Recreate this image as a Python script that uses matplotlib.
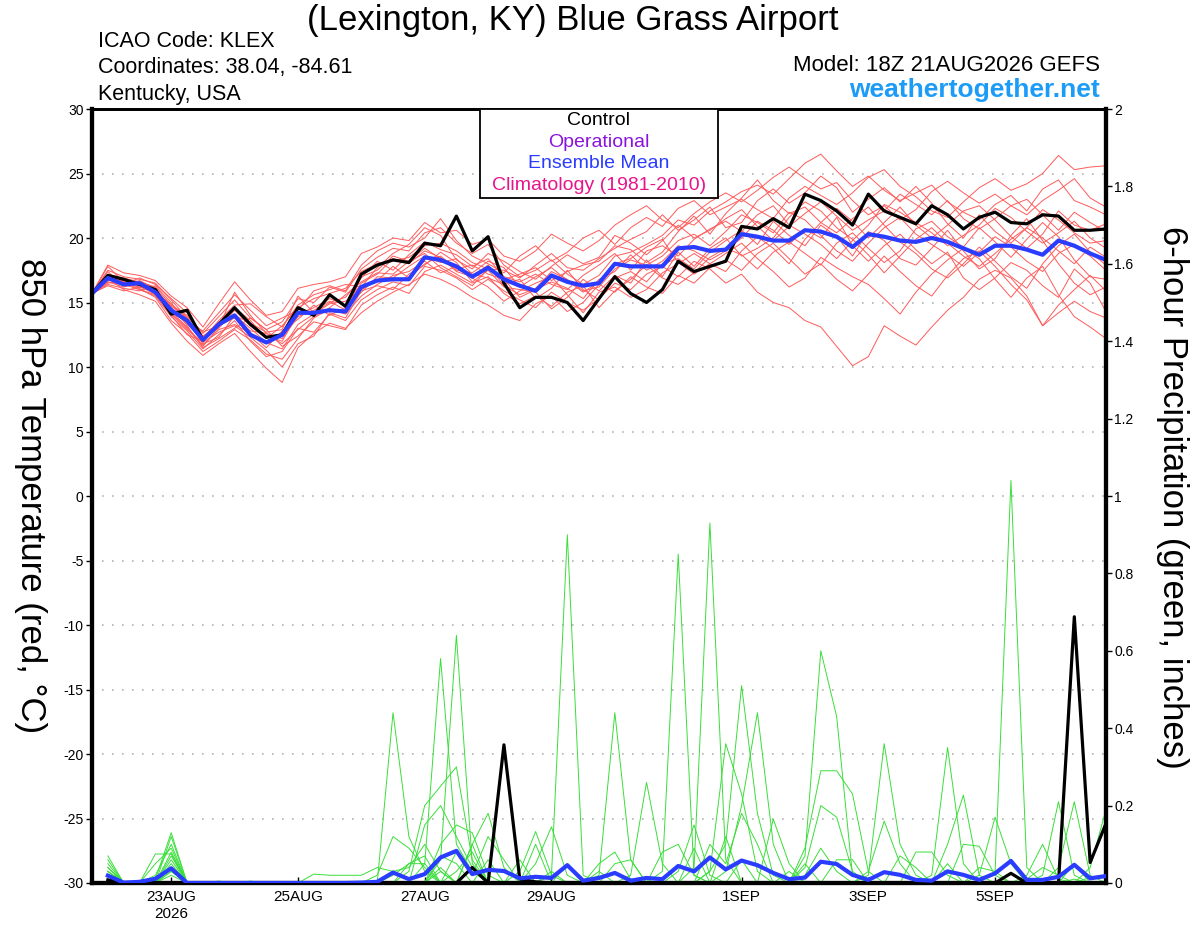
import numpy as np
import pandas as pd
import matplotlib
matplotlib.use("Agg")
import matplotlib.pyplot as plt
from matplotlib.patches import Rectangle

plt.rcParams['font.family'] = ['Liberation Sans', 'DejaVu Sans']

# 6-hourly forecast times, GEFS run 18Z 21AUG2026
times = pd.date_range('2026-08-21 18:00', periods=65, freq='6h')

tick_dates = pd.to_datetime(['2026-08-23', '2026-08-25', '2026-08-27', '2026-08-29',
                             '2026-09-01', '2026-09-03', '2026-09-05'])
tick_labels = ['23AUG\n2026', '25AUG', '27AUG', '29AUG', '1SEP', '3SEP', '5SEP']

# 850 hPa temperature (C), control run
ctrl_temp = [15.7, 17.1, 16.8, 16.4, 16.0, 14.1, 14.4, 12.1,
             13.3, 14.6, 13.3, 12.3, 12.5, 14.6, 14.0, 15.6,
             14.7, 17.2, 17.9, 18.3, 18.1, 19.6, 19.4, 21.7,
             19.0, 20.1, 16.5, 14.6, 15.4, 15.4, 15.0, 13.6,
             15.3, 17.0, 15.7, 15.0, 16.0, 18.2, 17.4, 17.8,
             18.2, 20.9, 20.7, 21.5, 20.8, 23.4, 22.9, 22.1,
             21.0, 23.4, 22.1, 21.6, 21.1, 22.5, 21.8, 20.7,
             21.6, 22.0, 21.2, 21.1, 21.8, 21.7, 20.6, 20.6,
             20.7]

# 850 hPa temperature (C), ensemble mean
mean_temp = [15.7, 16.9, 16.4, 16.5, 15.8, 14.4, 13.6, 12.1,
             13.3, 14.0, 12.5, 11.9, 12.5, 14.2, 14.2, 14.4,
             14.3, 16.2, 16.7, 16.8, 16.8, 18.5, 18.3, 17.8,
             17.0, 17.7, 16.8, 16.3, 15.9, 17.1, 16.6, 16.3,
             16.5, 18.0, 17.8, 17.8, 17.8, 19.2, 19.3, 19.0,
             19.1, 20.3, 20.1, 19.8, 19.8, 20.6, 20.5, 20.1,
             19.3, 20.3, 20.1, 19.8, 19.7, 20.0, 19.7, 19.2,
             18.7, 19.4, 19.4, 19.1, 18.7, 19.8, 19.4, 18.8,
             18.3]

# 850 hPa temperature (C), ensemble members
t01 = [15.7, 17.2, 16.9, 16.6, 16.2, 14.8, 14.0, 12.6,
       13.9, 15.2, 13.8, 12.9, 13.5, 15.3, 15.0, 16.2,
       15.8, 17.6, 18.5, 19.2, 19.0, 20.4, 20.8, 19.6,
       18.8, 19.5, 17.9, 17.0, 17.5, 18.3, 17.2, 16.4,
       17.1, 18.6, 18.9, 19.5, 20.2, 21.4, 21.0, 22.1,
       22.8, 23.6, 24.1, 23.4, 24.6, 25.8, 26.5, 25.2,
       24.0, 24.8, 23.7, 22.9, 23.5, 24.1, 22.8, 22.0,
       21.4, 22.6, 23.3, 22.1, 23.8, 24.5, 22.9, 22.4,
       21.8]
t02 = [15.7, 16.8, 16.4, 16.0, 15.5, 13.9, 12.8, 11.4,
       12.5, 13.6, 12.0, 10.8, 11.2, 13.0, 12.7, 14.1,
       13.6, 15.2, 16.0, 16.6, 16.3, 17.8, 17.5, 16.9,
       16.0, 16.8, 15.9, 15.2, 14.6, 15.8, 15.0, 14.4,
       15.3, 16.5, 16.0, 17.2, 17.8, 17.0, 18.2, 17.6,
       16.5, 17.2, 15.8, 15.0, 14.6, 13.6, 13.1, 11.6,
       10.1, 10.8, 13.2, 12.4, 11.7, 13.1, 14.4, 15.4,
       16.8, 17.5, 16.9, 15.5, 13.2, 14.2, 15.1, 14.3,
       13.8]
t03 = [15.7, 17.5, 17.0, 16.8, 16.5, 15.2, 13.8, 12.3,
       13.0, 14.4, 13.2, 12.4, 12.0, 14.1, 14.6, 15.3,
       14.8, 16.5, 17.2, 18.4, 18.0, 19.0, 18.5, 17.4,
       17.0, 17.9, 16.3, 15.6, 16.1, 17.4, 16.8, 15.9,
       16.2, 17.6, 18.3, 17.9, 18.6, 19.8, 20.3, 19.4,
       20.5, 21.8, 21.2, 20.4, 22.0, 21.4, 20.2, 19.0,
       18.2, 19.6, 20.8, 21.6, 20.3, 19.5, 18.7, 17.8,
       18.9, 20.1, 19.3, 18.2, 17.4, 18.8, 19.5, 18.6,
       17.5]
t04 = [15.7, 16.6, 16.2, 16.5, 16.0, 14.3, 13.1, 11.7,
       12.9, 13.3, 12.6, 11.5, 12.8, 13.7, 14.8, 14.0,
       14.6, 15.8, 17.0, 16.9, 17.8, 18.6, 18.1, 18.4,
       17.2, 16.9, 16.4, 16.8, 15.3, 16.1, 17.5, 16.0,
       15.2, 16.9, 17.4, 16.6, 18.0, 18.4, 17.6, 18.9,
       19.8, 20.6, 19.5, 21.3, 20.2, 19.4, 21.0, 20.1,
       18.6, 20.5, 19.8, 18.4, 17.9, 19.2, 20.6, 19.0,
       17.6, 18.4, 20.2, 21.5, 19.8, 18.0, 16.5, 15.6,
       16.2]
t05 = [15.7, 16.9, 16.0, 15.6, 15.1, 13.4, 12.0, 10.9,
       11.8, 12.6, 11.2, 9.9, 8.8, 11.5, 12.6, 13.4,
       13.0, 14.2, 15.1, 15.8, 16.4, 17.2, 16.8, 16.2,
       15.4, 14.8, 14.0, 13.6, 14.9, 15.5, 14.3, 15.0,
       16.4, 15.8, 17.0, 16.2, 15.7, 17.1, 16.5, 17.7,
       18.3, 17.5, 18.8, 19.6, 18.4, 17.2, 18.0, 16.8,
       15.9, 17.2, 18.6, 17.4, 16.3, 15.5, 17.1, 18.4,
       19.0, 17.8, 16.4, 15.2, 13.2, 14.8, 16.0, 17.1,
       15.9]
t06 = [15.7, 17.0, 16.5, 16.2, 15.8, 14.6, 13.5, 12.8,
       14.2, 15.6, 14.4, 13.2, 13.8, 14.4, 15.9, 16.3,
       15.9, 17.9, 19.0, 19.6, 19.3, 20.0, 21.5, 19.8,
       18.6, 18.0, 17.3, 18.6, 19.4, 18.2, 18.9, 20.0,
       20.6, 19.5, 20.8, 21.6, 20.9, 22.3, 22.9, 21.8,
       22.4, 23.0, 22.2, 21.5, 23.1, 24.0, 23.3, 22.6,
       23.5, 24.7, 25.3, 24.0, 23.2, 22.1, 21.6, 22.8,
       23.9, 24.6, 23.7, 24.2, 25.0, 26.4, 25.3, 25.5,
       25.6]
t07 = [15.7, 16.4, 16.1, 15.9, 16.3, 15.0, 13.2, 11.5,
       12.2, 13.0, 13.8, 12.9, 11.6, 12.4, 13.5, 13.2,
       12.9, 14.8, 15.6, 16.2, 15.7, 17.4, 17.9, 17.2,
       16.5, 17.0, 15.7, 14.9, 15.5, 14.7, 15.8, 16.3,
       14.6, 15.9, 16.8, 17.9, 16.9, 16.4, 17.3, 18.5,
       19.2, 18.7, 17.6, 18.9, 19.7, 18.8, 17.9, 19.6,
       20.4, 19.2, 18.1, 19.0, 20.7, 21.3, 20.1, 19.3,
       20.8, 19.7, 18.5, 19.9, 21.2, 20.1, 18.3, 17.0,
       16.8]
t08 = [15.7, 17.8, 16.6, 16.3, 15.6, 14.0, 12.5, 12.0,
       13.5, 14.0, 13.4, 12.7, 12.9, 15.5, 14.2, 15.0,
       15.4, 16.9, 18.2, 17.5, 18.7, 19.7, 19.1, 18.7,
       17.8, 18.4, 17.0, 16.6, 17.2, 16.4, 16.0, 17.1,
       17.9, 18.8, 17.5, 19.0, 19.4, 18.6, 19.9, 20.7,
       21.3, 20.5, 21.8, 22.5, 21.0, 20.3, 19.5, 18.4,
       19.8, 21.0, 22.6, 22.0, 21.2, 20.4, 19.4, 20.2,
       21.0, 22.3, 21.6, 20.5, 19.6, 20.4, 21.3, 20.0,
       19.2]
t09 = [15.7, 16.7, 16.8, 16.1, 15.4, 13.6, 12.6, 11.2,
       12.0, 12.9, 12.1, 11.0, 10.6, 12.2, 13.8, 14.5,
       14.1, 15.5, 16.4, 17.1, 17.4, 18.2, 17.3, 17.8,
       16.9, 16.2, 15.1, 15.9, 16.5, 17.0, 15.6, 14.2,
       15.8, 16.2, 15.4, 16.0, 17.3, 18.0, 18.8, 18.0,
       17.4, 19.0, 20.1, 19.2, 18.0, 19.9, 21.2, 20.4,
       21.5, 22.4, 21.0, 19.7, 18.8, 17.6, 16.9, 18.0,
       19.3, 18.2, 17.0, 16.1, 18.0, 19.4, 20.3, 18.9,
       17.9]
t10 = [15.7, 17.4, 16.3, 16.7, 16.1, 14.5, 13.3, 12.2,
       13.6, 14.8, 14.9, 13.9, 13.1, 14.8, 15.6, 16.0,
       16.4, 16.2, 17.7, 18.8, 19.5, 20.8, 20.2, 18.3,
       17.6, 18.8, 18.2, 17.4, 16.8, 17.8, 18.7, 18.0,
       18.5, 20.2, 19.6, 18.7, 19.8, 21.0, 20.0, 20.6,
       21.5, 22.2, 20.9, 19.8, 20.9, 21.9, 22.8, 21.7,
       20.6, 21.4, 22.1, 23.4, 22.6, 21.8, 22.9, 21.5,
       20.7, 21.5, 22.5, 23.0, 21.8, 20.6, 22.0, 21.2,
       20.5]
t11 = [15.7, 16.5, 16.7, 16.4, 15.7, 14.9, 13.7, 11.8,
       12.3, 14.0, 13.0, 11.9, 11.4, 13.3, 14.1, 14.9,
       15.1, 16.0, 16.7, 17.8, 16.9, 18.0, 18.6, 17.6,
       17.9, 17.2, 16.8, 15.4, 16.0, 16.6, 16.1, 15.3,
       16.8, 17.4, 18.7, 17.5, 18.2, 19.4, 19.0, 18.3,
       19.0, 20.0, 21.3, 20.6, 19.5, 20.7, 20.0, 21.6,
       19.4, 18.2, 19.4, 20.3, 19.1, 18.0, 18.9, 16.9,
       16.0, 16.9, 18.1, 17.5, 16.3, 15.4, 17.6, 16.5,
       14.3]
t12 = [15.7, 17.9, 17.3, 17.1, 16.7, 15.5, 14.6, 13.1,
       14.9, 16.6, 15.2, 14.0, 14.3, 16.1, 16.4, 16.6,
       17.0, 18.8, 19.3, 20.0, 19.8, 21.2, 20.4, 20.6,
       19.5, 19.9, 18.6, 18.2, 19.0, 20.3, 19.6, 19.0,
       19.8, 21.0, 21.8, 22.5, 21.4, 20.8, 21.9, 22.8,
       23.5, 22.8, 23.7, 24.7, 25.5, 24.6, 23.8, 24.3,
       22.9, 21.8, 22.5, 21.4, 22.2, 23.6, 24.4, 23.5,
       22.7, 23.4, 22.5, 21.8, 22.9, 23.7, 24.6, 23.1,
       22.4]
t13 = [15.7, 16.3, 15.9, 16.2, 15.9, 14.1, 12.9, 11.9,
       12.7, 13.2, 12.3, 11.3, 10.0, 11.8, 12.4, 14.2,
       13.8, 15.9, 16.3, 16.0, 17.2, 17.9, 18.9, 18.1,
       16.6, 17.5, 16.2, 16.0, 15.8, 14.5, 15.4, 16.8,
       15.9, 17.1, 16.5, 18.3, 17.0, 18.9, 17.8, 19.2,
       20.0, 18.6, 19.2, 20.0, 21.6, 22.8, 22.1, 20.8,
       19.9, 18.7, 17.3, 18.6, 19.9, 20.8, 19.6, 18.6,
       17.8, 18.8, 19.9, 20.8, 20.0, 19.0, 18.0, 19.3,
       18.5]
t14 = [15.7, 16.6, 16.4, 16.9, 16.4, 15.3, 14.2, 12.4,
       13.3, 14.6, 13.6, 12.2, 13.2, 14.6, 15.3, 15.7,
       16.1, 17.4, 18.0, 18.2, 18.5, 19.4, 19.6, 19.0,
       18.1, 17.6, 17.5, 16.9, 17.9, 18.8, 17.7, 17.5,
       18.4, 19.2, 19.9, 20.5, 21.8, 20.6, 21.4, 22.4,
       20.8, 21.2, 22.9, 23.8, 22.7, 23.5, 24.8, 23.9,
       22.0, 23.0, 23.9, 22.8, 24.0, 22.7, 21.1, 20.0,
       21.8, 20.5, 19.6, 20.8, 22.2, 21.4, 20.4, 19.6,
       19.8]
t15 = [15.7, 17.1, 16.6, 16.0, 15.6, 14.2, 13.0, 11.6,
       13.1, 15.8, 14.0, 12.6, 12.2, 13.9, 14.4, 15.1,
       14.4, 17.0, 17.5, 18.6, 18.2, 19.2, 18.4, 17.5,
       17.3, 18.2, 17.7, 16.2, 17.0, 17.7, 16.7, 15.8,
       16.6, 18.0, 18.4, 19.3, 19.9, 18.1, 17.2, 18.0,
       18.8, 19.6, 18.4, 17.4, 16.2, 16.9, 18.5, 17.7,
       17.0, 16.4, 15.3, 14.1, 15.8, 17.2, 18.3, 19.2,
       18.4, 16.8, 15.4, 16.9, 17.8, 15.6, 13.9, 13.1,
       12.2]
t16 = [15.7, 16.9, 16.7, 16.3, 16.0, 14.7, 13.9, 12.7,
       13.2, 13.8, 12.8, 12.6, 11.8, 12.9, 13.9, 14.6,
       15.6, 16.6, 17.3, 17.2, 18.2, 18.8, 17.7, 17.0,
       16.3, 17.6, 16.8, 17.2, 17.7, 16.7, 17.4, 17.9,
       18.2, 19.4, 19.1, 18.1, 18.9, 20.5, 21.7, 20.3,
       21.9, 23.1, 24.5, 22.9, 21.9, 22.4, 21.2, 22.3,
       21.3, 20.0, 21.2, 22.4, 21.0, 20.0, 21.0, 22.1,
       22.5, 21.4, 20.1, 19.2, 20.3, 22.1, 21.0, 20.6,
       21.1]
temp_members = [t01, t02, t03, t04, t05, t06, t07, t08,
                t09, t10, t11, t12, t13, t14, t15, t16]

# 6-hour precipitation (in), valid at times[1:], control run
ctrl_precip = [0.008, 0.0, 0.0, 0.0, 0.0, 0.0, 0.0, 0.0,
               0.0, 0.0, 0.0, 0.0, 0.0, 0.0, 0.0, 0.0,
               0.0, 0.0, 0.0, 0.0, 0.0, 0.0, 0.0, 0.04,
               0.0, 0.357, 0.01, 0.003, 0.0, 0.0, 0.0, 0.0,
               0.0, 0.0, 0.0, 0.0, 0.0, 0.0, 0.0, 0.0,
               0.0, 0.0, 0.0, 0.0, 0.0, 0.0, 0.0, 0.0,
               0.0, 0.0, 0.0, 0.0, 0.0, 0.0, 0.0, 0.0,
               0.0, 0.025, 0.0, 0.0, 0.0, 0.688, 0.053, 0.154]

# 6-hour precipitation (in), ensemble mean
mean_precip = [0.019, 0.001, 0.003, 0.011, 0.038, 0.0, 0.0, 0.0,
               0.0, 0.0, 0.0, 0.0, 0.0, 0.0, 0.0, 0.0,
               0.001, 0.003, 0.027, 0.01, 0.023, 0.066, 0.083, 0.023,
               0.034, 0.031, 0.012, 0.016, 0.013, 0.046, 0.006, 0.013,
               0.026, 0.006, 0.013, 0.01, 0.044, 0.03, 0.066, 0.035,
               0.058, 0.046, 0.026, 0.01, 0.014, 0.055, 0.049, 0.021,
               0.008, 0.028, 0.021, 0.008, 0.006, 0.03, 0.021, 0.008,
               0.025, 0.057, 0.008, 0.008, 0.016, 0.047, 0.012, 0.018]

# 6-hour precipitation (in), ensemble members: {forecast step: amount}, other steps dry
g01 = {1: 0.07, 4: 0.01, 5: 0.13, 19: 0.44, 20: 0.12, 21: 0.03, 29: 0.02, 30: 0.90,
       31: 0.02, 45: 0.02, 46: 0.09, 47: 0.03, 57: 0.03, 58: 1.04, 59: 0.04}
g02 = {1: 0.05, 4: 0.02, 5: 0.10, 21: 0.05, 22: 0.58, 23: 0.10, 24: 0.03,
       38: 0.04, 39: 0.93, 40: 0.06, 53: 0.02, 54: 0.35, 55: 0.05}
g03 = {1: 0.04, 4: 0.075, 5: 0.075, 22: 0.06, 23: 0.64, 24: 0.05, 36: 0.03,
       37: 0.85, 38: 0.02, 49: 0.02, 50: 0.36, 51: 0.10, 52: 0.02}
g04 = {1: 0.03, 5: 0.06, 20: 0.03, 21: 0.20, 22: 0.25, 23: 0.30, 24: 0.06,
       32: 0.02, 33: 0.44, 34: 0.06, 45: 0.07, 46: 0.60, 47: 0.43, 48: 0.02}
g05 = {1: 0.02, 5: 0.05, 39: 0.03, 40: 0.10, 41: 0.51, 42: 0.18, 43: 0.02,
       45: 0.09, 46: 0.29, 47: 0.29, 48: 0.23, 49: 0.03}
g06 = {1: 0.01, 5: 0.04, 22: 0.03, 34: 0.02, 35: 0.26, 36: 0.05, 40: 0.03,
       41: 0.20, 42: 0.44, 43: 0.10, 60: 0.02, 61: 0.21, 62: 0.02}
g07 = {1: 0.03, 5: 0.07, 18: 0.02, 19: 0.12, 20: 0.09, 21: 0.04, 39: 0.03,
       40: 0.36, 41: 0.23, 42: 0.03, 61: 0.04, 62: 0.21, 63: 0.02}
g08 = {1: 0.02, 5: 0.03, 24: 0.10, 25: 0.18, 26: 0.04, 28: 0.05, 29: 0.145,
       30: 0.02, 45: 0.04, 46: 0.20, 47: 0.17, 48: 0.03, 56: 0.02, 57: 0.17, 58: 0.05}
g09 = {1: 0.01, 5: 0.02, 21: 0.15, 22: 0.20, 23: 0.12, 24: 0.04, 27: 0.03,
       28: 0.133, 29: 0.02, 43: 0.165, 44: 0.05, 54: 0.10, 55: 0.227, 56: 0.02,
       63: 0.04, 64: 0.19}
g10 = {1: 0.04, 5: 0.08, 22: 0.10, 23: 0.15, 24: 0.13, 25: 0.02, 32: 0.05,
       33: 0.08, 34: 0.01, 49: 0.03, 50: 0.16, 51: 0.05, 59: 0.02, 60: 0.10, 61: 0.01}
g11 = {14: 0.023, 15: 0.02, 16: 0.02, 17: 0.02, 18: 0.04, 19: 0.03, 20: 0.04,
       21: 0.10, 22: 0.03, 37: 0.03, 38: 0.15, 39: 0.02, 52: 0.08, 53: 0.08, 54: 0.02}
g12 = {1: 0.03, 4: 0.05, 5: 0.09, 20: 0.05, 21: 0.07, 23: 0.03, 24: 0.08,
       27: 0.06, 36: 0.08, 37: 0.10, 38: 0.02, 55: 0.10, 56: 0.095, 57: 0.02}
g13 = {1: 0.02, 5: 0.04, 23: 0.08, 24: 0.02, 25: 0.12, 26: 0.06, 39: 0.10,
       40: 0.05, 41: 0.18, 42: 0.10, 59: 0.01, 60: 0.04, 61: 0.02}
g14 = {5: 0.03, 8: 0.005, 22: 0.04, 25: 0.06, 30: 0.05, 32: 0.03, 41: 0.06,
       47: 0.06, 48: 0.06, 63: 0.015, 64: 0.02}
g15 = {10: 0.005, 22: 0.07, 23: 0.05, 29: 0.03, 33: 0.05, 34: 0.06, 45: 0.05,
       51: 0.07, 52: 0.04, 54: 0.05, 62: 0.01}
g16 = {1: 0.06, 5: 0.12, 19: 0.02, 20: 0.05, 21: 0.05, 24: 0.10, 28: 0.10,
       38: 0.09, 40: 0.12, 44: 0.03, 56: 0.04, 57: 0.03, 62: 0.05}
precip_members = [g01, g02, g03, g04, g05, g06, g07, g08,
                  g09, g10, g11, g12, g13, g14, g15, g16]


def member_series(steps):
    vals = np.zeros(len(times) - 1)
    for k, v in steps.items():
        vals[k - 1] = v
    return vals


fig = plt.figure(figsize=(12, 9.27), dpi=100)
ax = fig.add_axes([92 / 1200, 1 - 883 / 927, 1014 / 1200, 774 / 927])
ax2 = ax.twinx()

# temperature on the left axis
for m in temp_members:
    ax.plot(times, m, color='#ff5a5a', lw=0.7, zorder=2)
ax.plot(times, ctrl_temp, color='black', lw=2.3, zorder=4)
ax.plot(times, mean_temp, color='#2a3cff', lw=3.0, zorder=5)

# precipitation on the right axis
ptimes = times[1:]
for m in precip_members:
    ax2.plot(ptimes, member_series(m), color='#3ade3a', lw=0.7, zorder=2)
ax2.plot(ptimes, ctrl_precip, color='black', lw=2.3, zorder=4)
ax2.plot(ptimes, mean_precip, color='#2a3cff', lw=3.0, zorder=5)

ax.set_xlim(times[0], times[-1])
ax.set_ylim(-30, 30)
ax2.set_ylim(0, 2)

ax.set_yticks(np.arange(-30, 31, 5))
ax.set_yticklabels([str(v) for v in range(-30, 31, 5)])
for v in range(-25, 30, 5):
    ax.axhline(v, color='#b4b4b4', lw=1.2, ls=(0, (1, 5)), zorder=1)

ax2.set_yticks(np.arange(0, 2.01, 0.2))
ax2.set_yticklabels(['0', '0.2', '0.4', '0.6', '0.8', '1', '1.2', '1.4', '1.6', '1.8', '2'])

ax.set_xticks(tick_dates)
ax.set_xticklabels(tick_labels, linespacing=1.25)

ax.tick_params(axis='y', labelsize=10, length=4, width=1, pad=2)
ax2.tick_params(axis='y', labelsize=10, length=4, width=1, pad=2)
ax.tick_params(axis='x', labelsize=11, length=4, width=1, direction='in', pad=5)

for a in (ax, ax2):
    a.spines['left'].set_linewidth(3)
    a.spines['right'].set_linewidth(3)
    a.spines['bottom'].set_linewidth(3)
    a.spines['top'].set_linewidth(2)

# legend box
ax2.add_patch(Rectangle((0.3826, 0.885), 0.2348, 0.115, transform=ax2.transAxes,
                        facecolor='white', edgecolor='black', lw=1.3, zorder=10))
legend_items = [('Control', 'black'), ('Operational', '#8a14dc'),
                ('Ensemble Mean', '#2a3cff'), ('Climatology (1981-2010)', '#e8148c')]
for i, (txt, col) in enumerate(legend_items):
    ax2.text(0.5, 0.9845 - i * 0.0277, txt, color=col, fontsize=14,
             ha='center', va='center', transform=ax2.transAxes, zorder=11)

# header
fig.text(0.477, 1 - 30 / 927, '(Lexington, KY) Blue Grass Airport', fontsize=25,
         ha='center', va='baseline')
fig.text(98 / 1200, 1 - 47 / 927, 'ICAO Code: KLEX', fontsize=15.5, va='baseline')
fig.text(98 / 1200, 1 - 73 / 927, 'Coordinates: 38.04, -84.61', fontsize=15.5, va='baseline')
fig.text(98 / 1200, 1 - 100 / 927, 'Kentucky, USA', fontsize=15.5, va='baseline')
fig.text(1100 / 1200, 1 - 71 / 927, 'Model: 18Z 21AUG2026 GEFS', fontsize=16,
         ha='right', va='baseline')
fig.text(1100 / 1200, 1 - 97 / 927, 'weathertogether.net', fontsize=19, fontweight='bold',
         color='#1c9cf6', ha='right', va='baseline')

fig.text(30 / 1200, 1 - 496 / 927, '850 hPa Temperature (red, °C)', fontsize=25,
         rotation=270, ha='center', va='center')
fig.text(1172 / 1200, 1 - 497 / 927, '6-hour Precipitation (green, inches)', fontsize=25,
         rotation=270, ha='center', va='center')

fig.savefig('out.png', dpi=100)
